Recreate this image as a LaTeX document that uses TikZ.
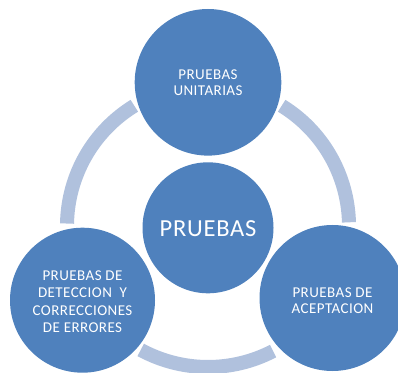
\documentclass[tikz,border=0pt]{standalone}
\usepackage{fontspec}
\setmainfont{Carlito}[LetterSpace=3]
\definecolor{circblue}{HTML}{4F81BD}
\definecolor{ringblue}{HTML}{B0C1DD}
\begin{document}
\begin{tikzpicture}[x=1pt,y=1pt,
  bubble/.style={circle,fill=circblue,draw=none,inner sep=0pt},
  label text/.style={text=white,align=center,inner sep=0pt},
  ringseg/.style={draw=ringblue,line width=14pt,line cap=butt},
  small/.style={font=\fontsize{15}{16}\selectfont}]
\useasboundingbox (0,0) rectangle (398,372);
\coordinate (rc) at (208,146);
% ring segments
\draw[ringseg] ([shift={(121.5:141)}]rc) arc[start angle=121.5,end angle=179,radius=141];
\draw[ringseg] ([shift={(58.5:141)}]rc) arc[start angle=58.5,end angle=1.5,radius=141];
\draw[ringseg] ([shift={(-118.5:141)}]rc) arc[start angle=-118.5,end angle=-62.5,radius=141];
% circles
\node[bubble,minimum size=146.6pt] (top) at (208,289.7) {};
\node[bubble,minimum size=131pt] (mid) at (208,144.2) {};
\node[bubble,minimum size=145pt] (left) at (82.5,71.8) {};
\node[bubble,minimum size=146pt] (right) at (332.5,74) {};
% texts
\node[label text,small] (toptext) at ([yshift=-0.5]top) {PRUEBAS\\UNITARIAS};
\node[label text,font=\fontsize{24.5}{28}\selectfont] (midtext) at ([yshift=-0.5]mid) {PRUEBAS};
\node[label text,font=\fontsize{15}{17.3}\selectfont] (lefttext) at ([yshift=-1.5]left) {PRUEBAS DE\\DETECCION\ \ Y\\CORRECCIONES\\DE ERRORES};
\node[label text,small] (righttext) at ([yshift=-3]right) {PRUEBAS DE\\ACEPTACION};
\end{tikzpicture}
\end{document}
